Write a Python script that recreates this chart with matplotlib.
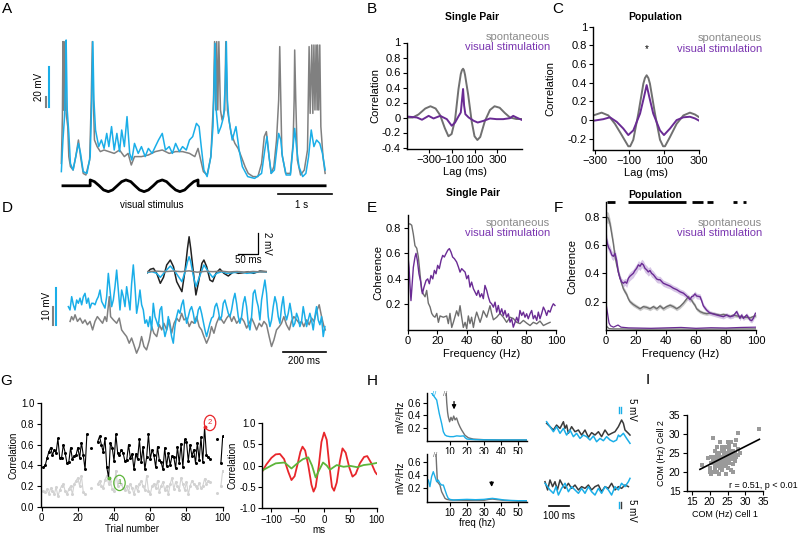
import numpy as np
import matplotlib
matplotlib.use("Agg")
import matplotlib.pyplot as plt

plt.rcParams['font.family'] = ['Liberation Sans', 'DejaVu Sans']

W, H = 800, 536
GRAY = '#808080'
BLUE = '#1aaee8'
PURPLE = '#6a2b94'
LEG_GRAY = '#8a8a8a'
LEG_PURPLE = '#7a35b0'
DARK = '#3a3a3a'
RED = '#e8262b'
GREEN = '#5db53a'

# ---------------- data: A (time s, membrane potential mV) ----------------
A_GRAY_T = [0.01, 0.03, 0.04, 0.05, 0.06, 0.08, 0.09, 0.10, 0.13, 0.15, 0.18, 0.23, 0.28, 0.33, 0.37,
            0.42, 0.47, 0.54, 0.57, 0.59, 0.61, 0.63, 0.68, 0.74, 0.81, 0.90, 1.00, 1.10, 1.19, 1.26,
            1.32, 1.38, 1.51, 1.64, 1.77, 1.90, 2.03, 2.15, 2.28, 2.41, 2.51, 2.57, 2.62, 2.67, 2.74,
            2.81, 2.86, 2.88, 2.90, 2.92, 2.94, 2.96, 2.99, 3.02, 3.07, 3.09, 3.12, 3.15, 3.19, 3.26,
            3.32, 3.38, 3.45, 3.51, 3.60, 3.69, 3.76, 3.81, 3.85, 3.90, 3.94, 3.99, 4.04, 4.08, 4.10,
            4.12, 4.14, 4.21, 4.30, 4.35, 4.37, 4.38, 4.40, 4.43, 4.49, 4.56, 4.62, 4.65, 4.67, 4.70,
            4.72, 4.74, 4.76, 4.78, 4.80, 4.81, 4.83, 4.85, 4.87, 4.91, 4.95]
A_GRAY_V = [8.3, 31.7, 69.2, 35, 69.2, 35, 69.2, 33.3, 26.7, 11.7, 6.7, 5, 11.7, 20, 11.7,
            3.3, 2.5, 10, 40, 69.2, 40, 20, 16.7, 14.2, 15, 14.2, 13.3, 15, 11.7, 13.3,
            7.5, 11.7, 11.7, 12.5, 14.2, 15, 13.3, 14.2, 14.2, 13.3, 11.7, 15.8, 10, 4.2, 2.5,
            11.7, 40, 69.2, 35, 69.2, 35, 69.2, 35, 30, 35, 69.2, 35, 30, 23.3, 18.3,
            15.8, 11.7, 6.7, 3.3, 1.7, 1.7, 8.3, 21.7, 24.2, 11.7, 3.3, 6.7, 20, 40, 66.7,
            40, 13.3, 3.3, 3.3, 18.3, 40, 65, 40, 10, 2.5, 5, 15, 66.7, 33.3, 67.5,
            33.3, 67.5, 35, 67.5, 35, 67.5, 35, 67.5, 26.7, 11.7, 3.3]
A_BLUE_T = [0.01, 0.04, 0.07, 0.09, 0.10, 0.12, 0.15, 0.18, 0.23, 0.28, 0.33, 0.37, 0.42, 0.49, 0.55,
            0.58, 0.60, 0.62, 0.65, 0.71, 0.76, 0.81, 0.86, 0.90, 0.95, 1.00, 1.05, 1.10, 1.14, 1.19,
            1.24, 1.29, 1.33, 1.38, 1.45, 1.51, 1.58, 1.64, 1.71, 1.77, 1.83, 1.90, 1.96, 2.03, 2.09,
            2.15, 2.22, 2.28, 2.35, 2.41, 2.47, 2.54, 2.59, 2.63, 2.68, 2.74, 2.81, 2.85, 2.87, 2.89,
            2.91, 2.95, 3.00, 3.05, 3.08, 3.10, 3.12, 3.15, 3.21, 3.28, 3.34, 3.40, 3.50, 3.63, 3.76,
            3.82, 3.86, 3.90, 3.94, 4.00, 4.05, 4.08, 4.12, 4.15, 4.22, 4.30, 4.35, 4.38, 4.42, 4.46,
            4.53, 4.59, 4.64, 4.69, 4.74, 4.79, 4.85, 4.90, 4.95]
A_BLUE_V = [4.2, 20, 31.7, 48.3, 70, 35, 23.3, 8.3, 5, 11.7, 18.3, 13.3, 4.2, 3.3, 11.7,
            40, 69.2, 40, 25, 16.7, 20, 15.8, 23.3, 16.7, 26.7, 15, 23.3, 14.2, 25, 16.7,
            31.7, 13.3, 10, 18.3, 13.3, 16.7, 11.7, 15.8, 13.3, 16.7, 20, 23.3, 15, 16.7, 13.3,
            18.3, 14.2, 16.7, 15, 20, 21.7, 28.3, 26.7, 16.7, 5, 1.7, 11.7, 26.7, 48.3, 68.3,
            35, 23.3, 26.7, 31.7, 48.3, 69.2, 40, 30, 20, 26.7, 15, 6.7, 1.7, 0.8, 3.3,
            15, 21.7, 11.7, 3.3, 5, 16.7, 23.3, 20, 11.7, 2.5, 2.5, 16.7, 25.8, 15, 6.7,
            1.7, 3.3, 11.7, 25, 16.7, 20, 18.3, 13.3, 5]
# stimulus drawing (normalised grating contrast)
STIM_T = [0.04, 0.55, 0.55, 0.63, 0.72, 0.80, 0.89, 0.97, 1.055, 1.14, 1.22, 1.31, 1.39, 1.475, 1.56,
          1.64, 1.73, 1.81, 1.90, 1.98, 2.06, 2.15, 2.23, 2.32, 2.40, 2.49, 2.57, 2.57, 4.95]
STIM_V = [0, 0, 1, 0.71, 0, -0.71, -1, -0.71, 0, 0.71, 1, 0.71, 0, -0.71, -1,
          -0.71, 0, 0.71, 1, 0.71, 0, -0.71, -1, -0.71, 0, 0.71, 1, 0, 0]

# ---------------- data: D (ms, mV) ----------------
D_GRAY_T = [8, 15, 23, 31, 42, 54, 66, 77, 88, 100, 112, 123, 134, 146, 158, 169, 177, 189, 195, 208,
            223, 235, 246, 257, 269, 281, 292, 303, 315, 328, 338, 349, 361, 374, 385, 395, 408, 420,
            431, 441, 454, 466, 477, 488, 500, 512, 523, 534, 546, 558, 569, 580, 592, 604, 615, 626,
            638, 651, 661, 672, 684, 697, 708, 718, 731, 743, 754, 764, 777, 789, 800, 811, 823, 835,
            846, 857, 869, 881, 892, 903, 915, 927, 938, 949, 961, 974, 984, 995, 1007, 1020, 1030,
            1041, 1054, 1066, 1077, 1087, 1100, 1112, 1123, 1134, 1146, 1158, 1169, 1180, 1186]
D_GRAY_V = [5.0, 6.3, 5.4, 6.8, 5.0, 5.9, 4.5, 5.4, 4.1, 5.0, 2.7, 5.0, 6.3, 5.4, 4.5, 6.3, 5.0, 11.7, 6.3, 5.4,
            4.5, 5.9, 2.7, 1.8, 0.9, -0.9, 0.5, -1.4, -3.6, -1.8, 0.9, -1.8, -2.7, 0, 3.6, 1.8, 0.9, 4.1,
            2.7, 4.5, 2.7, 5.4, 1.8, 4.5, 5.9, 5.0, 7.2, 5.4, 5.9, 3.6, 5.0, 4.5, 6.3, 3.6, 2.7, 0.9,
            -0.9, 0.9, 3.6, 1.8, 4.5, 6.3, 5.4, 4.5, 5.9, 6.8, 5.0, 6.3, 4.5, 5.4, 5.9, 5.0, 3.2, 4.5,
            5.9, 4.5, 2.7, 4.5, 3.6, 5.0, 4.1, 0.9, -1.8, 0, 2.7, 3.6, 4.5, 6.3, 4.1, 2.7, 5.0,
            6.3, 5.4, 4.5, 5.0, 3.6, 5.4, 4.1, 5.9, 5.0, 7.7, 9.5, 6.3, 3.6, 2.7]
D_BLUE_DT = 7.69  # ms between samples of the blue trace
D_BLUE_V = [9.0, 8.1, 11.7, 9.5, 8.1, 10.8, 9.9, 11.3, 9.5, 11.7, 12.6, 9.9, 11.3, 8.6, 9.9, 9.9, 9.5, 10.8,
            11.7, 13.5, 10.4, 9.5, 8.6, 11.7, 18.0, 13.5, 9.0, 10.8, 14.4, 18.9, 13.5, 8.1, 13.5, 11.7, 9.0,
            14.4, 11.3, 8.1, 15.3, 20.3, 14.4, 7.2, 9.9, 13.5, 9.5, 8.1, 4.5, 5.4, 3.6, 6.3, 2.7, 9.9, 6.3,
            5.0, 3.6, 8.1, 9.0, 3.6, 0.9, 2.7, 6.3, 3.6, 0.9, -0.9, 3.6, 6.3, 8.1, 7.2, 9.5, 10.8, 7.2, 4.5,
            6.3, 8.1, 9.0, 7.2, 4.5, 5.4, 8.1, 9.0, 7.2, 5.0, 2.7, 0.9, 2.7, 4.5, 5.9, 6.3, 9.0, 9.9, 8.1,
            5.4, 6.3, 9.9, 10.8, 9.0, 7.2, 6.3, 8.1, 10.8, 12.6, 9.9, 6.3, 4.5, 6.3, 9.9, 11.7, 9.0, 4.5,
            2.7, 6.3, 12.6, 13.5, 10.8, 9.0, 5.4, 10.8, 13.5, 16.2, 12.6, 6.3, 3.6, 5.4, 9.0, 11.7, 9.9,
            6.3, 4.5, 9.0, 11.7, 7.2, 5.4, 7.2, 9.9, 7.2, 3.6, 4.5, 7.2, 5.9, 3.6, 5.0, 9.0, 6.3, 3.6, 5.4,
            7.2, 5.4, 2.7, 6.3, 9.0, 5.4, 4.1, 6.3, 0.9, 3.6]
# inset: average LFP-triggered traces (ms, mV)
IN_BLACK_T = [-106, -97, -89, -81, -72, -64, -56, -47, -39, -31, -18, -10, -4, 0, 4, 11, 17, 23, 32, 37,
              44, 52, 59, 67, 77, 87, 98, 111, 123, 136, 148, 161, 177, 194]
IN_BLACK_V = [-0.16, 0.23, 0.32, -0.16, -1.13, -0.55, 0.65, 1.13, 0.48, -0.97, -1.94, 0.16, 2.26, 3.39,
              2.26, -0.16, -2.26, -1.13, 0.81, 1.13, 0.48, -0.81, -0.97, -0.16, 0.26, -0.16, -0.42, 0,
              -0.16, -0.1, 0, -0.16, 0.06, 0]
IN_BLUE_T = [-106, -93, -81, -72, -60, -47, -35, -18, -10, -4, 0, 4, 11, 17, 26, 37, 48, 59, 69, 82,
             94, 111, 127, 144, 161, 177, 194]
IN_BLUE_V = [-0.1, 0, -0.16, -0.55, 0, 0.55, 0, -0.97, 0, 0.97, 1.45, 0.97, -0.48, -1.45, -0.48, 0.65,
             0, -0.55, -0.16, 0, -0.16, -0.1, 0, -0.16, -0.1, 0, -0.03]
IN_GRAY_T = [-106, -80, -60, -40, -20, 0, 20, 40, 60, 80, 100, 120, 140, 160, 180, 194]
IN_GRAY_V = [0.0, 0.05, 0.0, 0.06, 0.0, 0.08, -0.05, 0.03, 0.0, 0.05, -0.03, 0.02, -0.05, 0.02, -0.03, 0.0]

# ---------------- data: B, C (lag ms, correlation) ----------------
B_LAG_SP = [-490, -440, -390, -330, -285, -240, -200, -160, -128, -100, -70, -40, -20, -10, 0, 8, 17, 45,
            75, 100, 125, 150, 190, 235, 275, 320, 365, 410, 465, 515]
B_SP = [0.0, 0.0, 0.04, 0.12, 0.15, 0.12, 0.03, -0.14, -0.25, -0.22, -0.03, 0.38, 0.58, 0.63, 0.65, 0.63,
        0.57, 0.3, -0.05, -0.25, -0.3, -0.26, -0.05, 0.1, 0.15, 0.13, 0.06, 0.0, -0.02, -0.02]
B_LAG_VS = [-490, -403, -359, -301, -258, -200, -142, -99, -70, -41, -20, -9, 0, 9, 20, 49, 93, 128,
            180, 235, 293, 351, 409, 438, 467, 510]
B_VS = [0.013, 0.0, -0.03, 0.022, -0.013, 0.022, -0.022, -0.11, -0.067, 0.013, 0.067, 0.24, 0.38, 0.16,
        0.044, 0.0, -0.044, -0.067, -0.044, -0.013, -0.022, -0.022, -0.009, 0.022, 0.0, -0.03]
C_LAG_SP = [-308, -260, -221, -183, -144, -106, -95, -77, -48, -19, -10, 0, 10, 19, 48, 77, 95, 106, 135,
            173, 212, 250, 279, 304]
C_SP = [0.05, 0.08, 0.05, -0.04, -0.16, -0.28, -0.28, -0.21, 0.07, 0.39, 0.45, 0.48, 0.45, 0.39, 0.07,
        -0.21, -0.28, -0.28, -0.18, -0.04, 0.05, 0.08, 0.06, 0.03]
C_LAG_VS = [-308, -250, -212, -173, -135, -106, -77, -38, -15, 0, 15, 38, 77, 100, 135, 173, 212, 250,
            279, 304]
C_VS = [-0.007, 0.01, 0.03, -0.018, -0.09, -0.16, -0.11, 0.07, 0.25, 0.375, 0.25, 0.07, -0.11, -0.16,
        -0.09, 0.0, 0.03, 0.036, 0.018, -0.007]

# ---------------- data: E, F (Hz, coherence) ----------------
E_FREQ_SP = [0, 1.6, 2.7, 3.8, 4.9, 6.1, 7.2, 8.3, 9.4, 10.6, 11.7, 12.8, 13.9, 15.1, 16.2, 17.3, 18.4,
             19.6, 20.7, 21.8, 24.0, 26.3, 27.4, 28.5, 29.7, 30.8, 33.0, 34.2, 35.3, 36.4, 37.5, 38.7,
             39.8, 40.9, 42.0, 43.1, 44.3, 45.4, 46.5, 48.8, 49.9, 51.0, 53.3, 55.5, 56.6, 57.8, 60.0,
             62.2, 64.5, 66.7, 69.0, 71.2, 73.5, 75.7, 78.0, 80.2, 82.5, 84.7, 87.0, 89.2, 91.5, 93.7, 96.0]
E_SP = [0.83, 0.83, 0.82, 0.75, 0.66, 0.64, 0.57, 0.44, 0.31, 0.28, 0.26, 0.31, 0.21, 0.18, 0.13, 0.11,
        0.10, 0.13, 0.06, 0.11, 0.10, 0.11, 0.05, 0.13, 0.02, 0.06, 0.15, 0.11, 0.19, 0.10, 0.02, 0.06,
        0.01, 0.11, 0.05, 0.10, 0.02, 0.09, 0.14, 0.06, 0.10, 0.15, 0.10, 0.19, 0.13, 0.08, 0.10, 0.13,
        0.10, 0.06, 0.10, 0.09, 0.06, 0.05, 0.075, 0.054, 0.035, 0.06, 0.048, 0.07, 0.035, 0.048, 0.06]
E_FREQ_VS = [0, 0.9, 1.6, 2.2, 2.7, 3.8, 4.9, 5.6, 6.5, 7.6, 8.8, 9.9, 11.0, 12.4, 13.5, 14.6, 15.7, 16.9,
             18.0, 19.1, 20.2, 21.3, 22.5, 23.6, 24.7, 25.8, 27.0, 28.1, 29.2, 30.3, 31.5, 33.0, 34.2,
             35.3, 36.4, 37.5, 38.7, 39.8, 40.9, 42.0, 43.1, 44.3, 45.4, 46.5, 47.6, 48.8, 49.9, 51.0,
             52.1, 53.3, 54.4, 55.5, 56.6, 57.8, 58.9, 60.0, 61.1, 62.2, 63.4, 64.5, 65.6, 66.7, 67.9,
             69.0, 70.1, 71.2, 72.4, 73.5, 74.6, 75.7, 76.9, 78.0, 79.1, 80.2, 81.3, 82.5, 83.6, 84.7,
             85.8, 87.0, 88.1, 89.2, 90.3, 91.5, 92.6, 93.7, 94.8, 96.0, 97.1, 98.2, 99.3]
E_VS = [0.60, 0.49, 0.34, 0.23, 0.31, 0.49, 0.57, 0.60, 0.545, 0.44, 0.375, 0.284, 0.336, 0.388, 0.40,
        0.362, 0.427, 0.40, 0.467, 0.44, 0.506, 0.48, 0.545, 0.584, 0.571, 0.597, 0.624, 0.637, 0.61,
        0.571, 0.558, 0.532, 0.493, 0.453, 0.48, 0.467, 0.453, 0.401, 0.427, 0.336, 0.375, 0.323, 0.297,
        0.271, 0.31, 0.258, 0.284, 0.245, 0.349, 0.31, 0.258, 0.218, 0.205, 0.179, 0.218, 0.14, 0.192,
        0.127, 0.166, 0.114, 0.153, 0.10, 0.127, 0.061, 0.088, 0.022, 0.061, 0.10, 0.061, 0.153, 0.114,
        0.14, 0.10, 0.127, 0.088, 0.127, 0.153, 0.088, 0.114, 0.075, 0.14, 0.088, 0.127, 0.179, 0.153,
        0.114, 0.153, 0.14, 0.179, 0.205, 0.192]

F_FREQ_SP = [0, 1.6, 2.7, 3.8, 4.9, 6.0, 7.1, 8.2, 9.3, 10.4, 11.6, 12.7, 13.8, 14.9, 16.0, 17.1, 18.2,
             20.4, 22.7, 24.9, 27.1, 29.3, 31.6, 33.8, 36.0, 38.2, 40.4, 42.7, 44.9, 47.1, 49.3, 51.6,
             53.8, 54.9, 56.0, 57.1, 58.2, 59.3, 60.4, 62.7, 64.9, 67.1, 69.3, 71.6, 73.8, 76.0, 78.2,
             80.4, 82.7, 84.9, 87.1, 89.3, 91.6, 93.8, 96.0, 98.2, 100]
F_SP = [0.80, 0.79, 0.75, 0.68, 0.61, 0.52, 0.46, 0.41, 0.37, 0.33, 0.29, 0.27, 0.25, 0.22, 0.20, 0.19,
        0.18, 0.165, 0.15, 0.165, 0.16, 0.15, 0.165, 0.15, 0.17, 0.15, 0.165, 0.175, 0.165, 0.15, 0.165,
        0.19, 0.22, 0.235, 0.22, 0.21, 0.19, 0.175, 0.15, 0.13, 0.12, 0.115, 0.12, 0.115, 0.11, 0.105,
        0.11, 0.105, 0.095, 0.105, 0.10, 0.095, 0.09, 0.09, 0.085, 0.095, 0.10]
F_SP_SEM = [0.04, 0.04, 0.035, 0.035, 0.03, 0.03, 0.025, 0.025, 0.02, 0.02,
            0.018, 0.018, 0.016, 0.016, 0.015, 0.015, 0.015, 0.014, 0.014, 0.014,
            0.014, 0.014, 0.014, 0.014, 0.014, 0.014, 0.014, 0.014, 0.014, 0.014,
            0.014, 0.015, 0.016, 0.016, 0.016, 0.015, 0.015, 0.014, 0.014, 0.013,
            0.012, 0.012, 0.012, 0.012, 0.012, 0.012, 0.012, 0.012, 0.012, 0.012,
            0.012, 0.012, 0.012, 0.012, 0.012, 0.012, 0.012]
F_FREQ_VS = [0, 0.9, 1.8, 2.7, 3.8, 4.9, 6.0, 7.1, 8.2, 9.3, 10.4, 11.6, 12.7, 13.8, 14.9, 16.0, 17.1,
             18.2, 19.3, 20.4, 21.6, 22.7, 23.8, 24.9, 26.0, 27.1, 28.2, 29.3, 30.4, 31.6, 32.7, 33.8,
             34.9, 36.0, 38.2, 40.4, 42.7, 44.9, 47.1, 49.3, 51.6, 53.8, 56.0, 57.1, 58.2, 59.3, 60.4,
             62.7, 63.8, 64.9, 67.1, 69.3, 71.6, 73.8, 76.0, 78.2, 80.4, 82.7, 84.9, 87.1, 88.2, 89.3,
             90.4, 91.6, 92.7, 93.8, 96.0, 97.1, 98.2, 99.6]
F_VS = [0.66, 0.61, 0.58, 0.565, 0.53, 0.52, 0.54, 0.49, 0.41, 0.365, 0.34, 0.33, 0.34, 0.33, 0.365,
        0.38, 0.39, 0.40, 0.42, 0.435, 0.46, 0.45, 0.47, 0.46, 0.435, 0.425, 0.41, 0.42, 0.40, 0.39,
        0.375, 0.36, 0.355, 0.355, 0.33, 0.32, 0.31, 0.295, 0.285, 0.27, 0.26, 0.24, 0.215, 0.235, 0.24,
        0.255, 0.24, 0.235, 0.205, 0.17, 0.14, 0.12, 0.113, 0.106, 0.10, 0.094, 0.106, 0.094, 0.10, 0.13,
        0.106, 0.082, 0.106, 0.082, 0.094, 0.106, 0.071, 0.066, 0.082, 0.118]
F_VS_SEM = [0.04, 0.035, 0.03, 0.03, 0.03, 0.03, 0.03, 0.03, 0.025, 0.025,
            0.025, 0.025, 0.025, 0.03, 0.03, 0.03, 0.03, 0.03, 0.03, 0.03,
            0.03, 0.03, 0.03, 0.03, 0.03, 0.03, 0.03, 0.028, 0.028, 0.026,
            0.025, 0.025, 0.024, 0.024, 0.022, 0.022, 0.02, 0.02, 0.02, 0.02,
            0.02, 0.02, 0.02, 0.02, 0.02, 0.02, 0.02, 0.02, 0.02, 0.018,
            0.016, 0.016, 0.016, 0.016, 0.016, 0.016, 0.016, 0.016, 0.016, 0.016,
            0.016, 0.016, 0.016, 0.016, 0.016, 0.016, 0.016, 0.016, 0.016, 0.016]
F_BASE_FREQ_VS = [0, 1, 2, 3, 5, 6, 8, 10, 15, 20, 30, 40, 50, 60, 70, 80, 90, 100]
F_BASE_VS = [0.19, 0.12, 0.05, 0.03, 0.02, 0.025, 0.035, 0.02, 0.015, 0.014, 0.012, 0.015, 0.018, 0.012,
             0.016, 0.014, 0.018, 0.02]
F_BASE_FREQ_SP = [0, 2, 5, 10, 20, 40, 60, 80, 100]
F_BASE_SP = [0.03, 0.01, 0.008, 0.008, 0.006, 0.007, 0.006, 0.007, 0.008]
F_SIG_START = [0.4, 14.9, 57.1, 67.1, 84.4, 91.3]
F_SIG_END = [6.0, 53.3, 64.9, 71.1, 87.1, 93.6]

# ---------------- data: G ----------------
nan = np.nan
G_BLACK = [0.38, 0.40, 0.47, 0.53, 0.57, 0.50, 0.55, 0.52, 0.66, 0.47, 0.47, 0.60, 0.52, 0.42, 0.43,
           0.57, 0.46, 0.49, 0.50, 0.57, 0.47, 0.62, 0.50, 0.36, 0.70, nan, 0.57, nan, nan, nan,
           0.63, 0.68, 0.60, 0.53, 0.66, 0.38, 0.28, 0.62, 0.57, 0.44, 0.70, 0.52, 0.50, 0.55, 0.52,
           0.44, 0.45, 0.60, 0.47, 0.51, 0.36, 0.51, 0.46, 0.65, 0.43, 0.58, 0.36, 0.48, 0.70, 0.46,
           0.55, 0.50, 0.38, 0.58, 0.45, 0.43, 0.36, 0.57, 0.39, 0.52, 0.40, 0.49, 0.48, 0.37, 0.58,
           0.42, 0.61, 0.38, 0.65, 0.63, 0.44, 0.60, 0.49, 0.55, 0.42, 0.62, 0.45, 0.67, 0.43, 0.77,
           0.50, 0.48, 0.46, nan, nan, nan, 0.65, nan, 0.42, 0.68]
G_GRAY = [0.15, 0.14, 0.17, 0.12, 0.18, 0.15, 0.12, 0.19, 0.10, 0.16, 0.20, 0.22, 0.15, 0.12, 0.17,
          0.20, 0.12, 0.22, 0.25, 0.28, 0.20, 0.30, 0.14, 0.12, nan, nan, 0.18, nan, nan, nan,
          0.22, 0.25, 0.20, 0.18, 0.26, 0.30, 0.22, 0.25, 0.17, 0.15, 0.35, 0.20, 0.25, 0.22, 0.18,
          0.16, 0.20, 0.14, 0.22, 0.18, 0.12, 0.20, 0.15, 0.22, 0.25, 0.20, 0.16, 0.30, 0.15, 0.12,
          0.20, 0.22, 0.18, 0.25, 0.14, 0.20, 0.24, 0.16, 0.20, 0.12, 0.22, 0.28, 0.17, 0.24, 0.20,
          0.16, 0.28, 0.22, 0.16, 0.24, 0.12, 0.20, 0.25, 0.22, 0.20, 0.18, 0.23, 0.18, 0.20, 0.27,
          0.22, 0.25, 0.24, nan, nan, nan, 0.13, nan, 0.20, 0.35]
G_TRIAL_LOW, G_TRIAL_HIGH = 37, 90
G_LAG_RED = [-118, -110, -100, -92, -84, -76, -68, -62, -56, -50, -45, -41, -36, -30, -24, -20, -16, -10,
             -5, 0, 5, 10, 15, 19, 24, 30, 35, 41, 48, 54, 60, 68, 76, 82, 90, 97, 100]
G_RED = [-0.15, 0.02, 0.18, 0.26, 0.27, 0.15, -0.15, -0.34, -0.25, 0.05, 0.32, 0.44, 0.35, 0.0, -0.45,
         -0.61, -0.5, 0.0, 0.55, 0.77, 0.6, 0.0, -0.5, -0.59, -0.4, 0.1, 0.4, 0.3, -0.05, -0.26, -0.2,
         0.05, 0.2, 0.22, 0.05, -0.15, -0.2]
G_LAG_GREEN = [-118, -100, -92, -84, -75, -62, -49, -40, -30, -23, -16, -9, -2, 5, 11, 18, 24, 37, 50,
               63, 75, 88, 100]
G_GREEN = [-0.12, 0.0, 0.05, 0.06, 0.07, -0.07, 0.07, 0.15, 0.19, 0.0, -0.28, -0.1, 0.07, 0.0, -0.1,
           -0.04, 0.01, -0.03, -0.01, -0.04, 0.01, 0.03, 0.06]

# ---------------- data: H ----------------
H1_FREQ_BLUE = [-0.8, 2.2, 3.7, 5.1, 6.1, 7.1, 8.1, 10, 12, 14, 16, 18, 19, 20, 25, 30, 40, 50, 55.3]
H1_BLUE = [0.75, 0.64, 0.43, 0.275, 0.145, 0.094, 0.078, 0.068, 0.068, 0.08, 0.075, 0.08, 0.05, 0.03,
           0.02, 0.018, 0.016, 0.016, 0.016]
H1_FREQ_GRAY = [7.8, 8.1, 8.6, 9.0, 9.8, 10.6, 11.4, 12.2, 13.0, 13.9, 14.9, 15.9, 16.9, 18.8, 20.8,
                23.7, 30, 40, 55.3]
H1_GRAY = [0.75, 0.6, 0.45, 0.38, 0.30, 0.37, 0.32, 0.39, 0.33, 0.36, 0.28, 0.22, 0.17, 0.09, 0.05,
           0.03, 0.02, 0.016, 0.016]
H2_FREQ_BLUE = [-2.7, -1.8, -0.8, 0.2, 1.2, 2.2, 3.1, 4.1, 5.1, 6.1, 7.1, 8.1, 9.0, 10, 12, 15, 20, 25,
                30, 33, 35, 38, 42, 45, 50, 55.3]
H2_BLUE = [0.325, 0.225, 0.375, 0.45, 0.375, 0.30, 0.325, 0.275, 0.25, 0.25, 0.175, 0.10, 0.05, 0.035,
           0.025, 0.03, 0.035, 0.03, 0.035, 0.045, 0.05, 0.04, 0.025, 0.02, 0.015, 0.015]
H2_FREQ_GRAY = [1.8, 2.2, 2.6, 4.1, 5.1, 6.1, 7.1, 8.1, 10, 20, 30, 33, 35, 38, 42, 50, 55.3]
H2_GRAY = [0.72, 0.5, 0.3, 0.25, 0.15, 0.1, 0.05, 0.035, 0.025, 0.02, 0.02, 0.035, 0.04, 0.03, 0.02,
           0.01, 0.01]
HT_DARK_T = [8, 25, 42, 58, 75, 92, 100, 108, 117, 133, 150, 167, 183, 200, 217, 233, 250, 267, 283, 300,
             317, 333, 350, 367, 383, 392, 400, 417, 425]
HT_DARK_V = [20.3, 17.4, 14.5, 18.8, 15.9, 21.7, 15.9, 18.8, 11.6, 17.4, 13.0, 14.5, 10.1, 14.5, 8.1,
             12.2, 10.1, 13.0, 8.7, 14.5, 10.1, 11.6, 13.0, 17.4, 23.2, 20.3, 14.5, 11.6, 10.1]
HT_BLUE_T = [8, 25, 42, 58, 75, 92, 108, 125, 142, 158, 175, 192, 208, 225, 242, 258, 275, 292, 308, 325,
             342, 358, 367, 375, 392, 408, 425]
HT_BLUE_V = [21.7, 17.4, 13.0, 17.4, 11.6, 15.9, 10.1, 14.5, 8.7, 11.6, 7.2, 10.1, 8.7, 5.8, 9.3, 4.3,
             7.2, 5.2, 8.7, 5.8, 4.3, 5.8, 10.1, 8.7, 11.6, 7.2, 2.9]
HB_DARK_T = [0, 13, 25, 38, 50, 62, 75, 88, 100, 117, 133, 150, 167, 183, 200, 217, 233, 250, 267, 283,
             300, 317, 333, 350, 367, 383, 400, 417]
HB_DARK_V = [13.0, 5.8, 14.5, 8.7, 13.0, 5.8, 14.5, 10.1, 7.2, 11.6, 7.2, 10.1, 5.8, 8.7, 7.2, 10.1, 5.8,
             8.7, 10.1, 4.3, 8.7, 7.2, 11.6, 5.8, 8.7, 7.2, 10.1, 8.7]
HB_BLUE_T = [0, 13, 25, 42, 55, 67, 83, 100, 117, 133, 150, 167, 183, 200, 217, 233, 250, 267, 283, 300,
             317, 333, 350, 367, 383, 400, 417, 425]
HB_BLUE_V = [11.6, 8.7, 5.8, 2.9, 8.7, 1.4, 7.2, 11.6, 4.3, 8.7, 5.8, 2.9, 7.2, 2.9, 8.7, 4.3, 1.4, 7.2,
             2.9, 8.7, 5.8, 1.4, 8.7, 5.8, 11.6, 8.7, 13.0, 15.9]

# ---------------- data: I (COM, Hz) ----------------
I_COM1 = [18.0, 19.5, 20.0, 20.0, 20.5, 20.5, 21.0, 21.0, 21.0, 21.5, 21.5, 21.5, 22.0, 22.0, 22.0, 22.0,
          22.5, 22.5, 22.5, 22.5, 23.0, 23.0, 23.0, 23.0, 23.0, 23.5, 23.5, 23.5, 23.5, 24.0, 24.0, 24.0,
          24.0, 24.0, 24.5, 24.5, 24.5, 24.5, 25.0, 25.0, 25.0, 25.0, 25.0, 25.5, 25.5, 25.5, 26.0, 26.0,
          26.0, 26.0, 26.5, 26.5, 26.5, 27.0, 27.0, 27.0, 27.5, 27.5, 28.0, 28.0, 27.8, 33.8, 22.0, 20.5,
          23.5, 26.5, 24.5, 28.5, 21.5, 25.5]
I_COM2 = [21.9, 23.8, 20.0, 21.0, 19.6, 22.5, 20.0, 23.0, 28.9, 21.0, 22.0, 24.0, 20.0, 21.5, 23.0, 24.5,
          19.6, 22.0, 23.5, 25.0, 21.0, 22.0, 23.0, 24.0, 27.8, 20.5, 22.5, 24.0, 25.5, 21.5, 22.5, 23.5,
          24.5, 25.5, 22.0, 23.0, 24.0, 26.5, 21.0, 23.0, 24.0, 25.0, 28.0, 22.5, 24.5, 26.0, 20.5, 23.5,
          25.0, 28.0, 22.0, 24.0, 25.5, 23.0, 25.0, 27.0, 24.0, 28.5, 24.5, 26.0, 30.2, 31.4, 26.5, 24.0,
          26.5, 20.0, 19.5, 25.0, 25.5, 27.0]
I_FIT_X = [17.3, 33.9]
I_FIT_Y = [20.7, 28.6]

fig = plt.figure(figsize=(8, 5.36), dpi=100)


def px_axes(x0, y0, x1, y1):
    return fig.add_axes([x0 / W, 1 - y1 / H, (x1 - x0) / W, (y1 - y0) / H])


def ftext(x, y, s, **kw):
    kw.setdefault('ha', 'center')
    kw.setdefault('va', 'center')
    fig.text(x / W, 1 - y / H, s, **kw)


def style(ax, size=8):
    for side in ('top', 'right'):
        ax.spines[side].set_visible(False)
    for side in ('left', 'bottom'):
        ax.spines[side].set_linewidth(1.0)
    ax.tick_params(direction='out', length=3, width=0.8, labelsize=size, pad=1.5)


fmt_g = matplotlib.ticker.FuncFormatter(lambda v, p: '%g' % v)
fmt_1 = matplotlib.ticker.FormatStrFormatter('%.1f')

# panel letters
for letter, x, y in [('A', 7, 9), ('B', 372, 9), ('C', 558, 9), ('D', 7, 208), ('E', 372, 208),
                     ('F', 558, 208), ('G', 6, 381), ('H', 372, 381), ('I', 648, 380)]:
    ftext(x, y, letter, fontsize=11)

# ---------------- A ----------------
axA = px_axes(30, 30, 335, 212)
axA.plot(A_GRAY_T, A_GRAY_V, color=GRAY, lw=1.1)
axA.plot(A_BLUE_T, A_BLUE_V, color=BLUE, lw=1.1)
axA.plot([-0.27, -0.27], [36.3, 41.5], color=GRAY, lw=1.5)
axA.plot([-0.23, -0.23], [36.3, 56.6], color=BLUE, lw=1.5)
axA.text(-0.41, 46.5, '20 mV', rotation=90, ha='center', va='center', fontsize=7)
axA.plot([4.06, 5.08], [-7, -7], color='black', lw=1.2)
axA.set_xlim(-0.577, 5.135)
axA.set_ylim(-16, 75)
axA.axis('off')
ftext(301.7, 205, '1 s', fontsize=7)
ftext(151.7, 205, 'visual stimulus', fontsize=7)

axS = px_axes(30, 170, 335, 200)
axS.plot(STIM_T, STIM_V, color='black', lw=2.0, solid_joinstyle='round')
axS.set_xlim(-0.577, 5.135)
axS.set_ylim(-2.43, 2.7)
axS.axis('off')

# ---------------- D ----------------
axD = px_axes(30, 225, 335, 365)
d_blue_t = np.arange(len(D_BLUE_V)) * D_BLUE_DT
axD.plot(D_GRAY_T, D_GRAY_V, color=GRAY, lw=1.1)
axD.plot(d_blue_t, D_BLUE_V, color=BLUE, lw=1.1)
axD.plot([-69, -69], [4.05, 9.0], color=GRAY, lw=1.5)
axD.plot([-57, -57], [4.05, 14.1], color=BLUE, lw=1.5)
axD.text(-100, 9.2, '10 mV', rotation=90, ha='center', va='center', fontsize=7)
axD.plot([989, 1189], [-3.2, -3.2], color='black', lw=1.2)
axD.text(1089, -5.6, '200 ms', ha='center', va='center', fontsize=7)
axD.set_xlim(-177, 1231)
axD.set_ylim(-6.8, 31.1)
axD.axis('off')

axIn = px_axes(146.7, 225, 266.7, 300)
axIn.plot(IN_BLACK_T, IN_BLACK_V, color='#222222', lw=1.1)
axIn.plot(IN_BLUE_T, IN_BLUE_V, color=BLUE, lw=1.1)
axIn.plot(IN_GRAY_T, IN_GRAY_V, color=GRAY, lw=1.1)
axIn.plot([123, 173, 173], [1.72, 1.72, 3.73], color='black', lw=0.9)
axIn.text(148, 1.1, '50 ms', ha='center', va='center', fontsize=7)
axIn.text(194, 2.7, '2 mV', rotation=270, ha='center', va='center', fontsize=7, clip_on=False)
axIn.set_xlim(-106, 194)
axIn.set_ylim(-2.75, 4.53)
axIn.axis('off')

# ---------------- B ----------------
axB = px_axes(407, 42.5, 522, 149)
axB.plot(B_LAG_SP, B_SP, color='#707070', lw=1.4)
axB.plot(B_LAG_VS, B_VS, color=PURPLE, lw=1.4)
axB.set_xlim(-490, 515)
axB.set_ylim(-0.42, 1.0)
axB.set_yticks([-0.4, -0.2, 0, 0.2, 0.4, 0.6, 0.8, 1])
axB.set_xticks([-300, -100, 100, 300])
axB.yaxis.set_major_formatter(fmt_g)
style(axB, 8)
axB.set_ylabel('Correlation', fontsize=8, labelpad=1)
axB.set_xlabel('Lag (ms)', fontsize=8, labelpad=1)
ftext(472, 17.5, 'Single Pair', fontsize=7.5, fontweight='bold')
ftext(550, 37.5, 'spontaneous', fontsize=8, ha='right', color=LEG_GRAY)
ftext(550, 47.5, 'visual stimulation', fontsize=8, ha='right', color=LEG_PURPLE)

# ---------------- C ----------------
axC = px_axes(593.3, 26.7, 699.3, 150)
axC.plot(C_LAG_SP, C_SP, color='#707070', lw=1.4)
axC.plot(C_LAG_VS, C_VS, color=PURPLE, lw=1.4)
axC.text(0, 0.76, '*', ha='center', va='center', fontsize=7)
axC.set_xlim(-308, 304)
axC.set_ylim(-0.32, 1.0)
axC.set_yticks([-0.2, 0, 0.2, 0.4, 0.6, 0.8, 1])
axC.set_xticks([-300, -100, 100, 300])
axC.yaxis.set_major_formatter(fmt_g)
style(axC, 8)
axC.set_ylabel('Correlation', fontsize=8, labelpad=9)
axC.set_xlabel('Lag (ms)', fontsize=8, labelpad=1)
ftext(655, 17, 'Population', fontsize=7.5, fontweight='bold')
ftext(762, 38, 'spontaneous', fontsize=8, ha='right', color=LEG_GRAY)
ftext(762, 49, 'visual stimulation', fontsize=8, ha='right', color=LEG_PURPLE)

# ---------------- E ----------------
axE = px_axes(407.7, 215, 556, 330)
axE.plot(E_FREQ_SP, E_SP, color='#6e6e6e', lw=1.0)
axE.plot(E_FREQ_VS, E_VS, color=PURPLE, lw=1.0)
axE.set_xlim(0, 100)
axE.set_ylim(0, 0.9)
axE.set_yticks([0.2, 0.4, 0.6, 0.8])
axE.set_xticks([0, 20, 40, 60, 80, 100])
style(axE, 8)
axE.set_ylabel('Coherence', fontsize=8, labelpad=2)
axE.set_xlabel('Frequency (Hz)', fontsize=8, labelpad=2)
ftext(473, 193.5, 'Single Pair', fontsize=7.5, fontweight='bold')
ftext(550, 223, 'spontaneous', fontsize=8, ha='right', color=LEG_GRAY)
ftext(550, 233, 'visual stimulation', fontsize=8, ha='right', color=LEG_PURPLE)

# ---------------- F ----------------
axF = px_axes(606, 202.5, 756, 330)
f_sp = np.array(F_SP)
f_vs = np.array(F_VS)
axF.fill_between(F_FREQ_SP, f_sp - np.array(F_SP_SEM), f_sp + np.array(F_SP_SEM),
                 color='#bdbdbd', lw=0, alpha=0.8)
axF.fill_between(F_FREQ_VS, f_vs - np.array(F_VS_SEM), f_vs + np.array(F_VS_SEM),
                 color='#cdb8e0', lw=0, alpha=0.8)
axF.plot(F_FREQ_SP, F_SP, color='#6e6e6e', lw=1.0)
axF.plot(F_FREQ_VS, F_VS, color=PURPLE, lw=1.0)
axF.plot(F_BASE_FREQ_SP, F_BASE_SP, color='#6e6e6e', lw=0.9)
axF.plot(F_BASE_FREQ_VS, F_BASE_VS, color=PURPLE, lw=0.9)
for s0, s1 in zip(F_SIG_START, F_SIG_END):
    axF.plot([s0, s1], [0.9, 0.9], color='black', lw=2, clip_on=False, solid_capstyle='butt')
axF.set_xlim(0, 100)
axF.set_ylim(0, 0.9)
axF.set_yticks([0.2, 0.4, 0.6, 0.8])
axF.set_xticks([0, 20, 40, 60, 80, 100])
style(axF, 8)
axF.set_ylabel('Coherence', fontsize=8, labelpad=5)
axF.set_xlabel('Frequency (Hz)', fontsize=8, labelpad=2)
ftext(655, 194.5, 'Population', fontsize=7.5, fontweight='bold')
ftext(762, 223, 'spontaneous', fontsize=8, ha='right', color=LEG_GRAY)
ftext(762, 233, 'visual stimulation', fontsize=8, ha='right', color=LEG_PURPLE)

# ---------------- G (left) ----------------
axG = px_axes(40.7, 403.3, 222.7, 506.7)
trials = np.arange(1, len(G_BLACK) + 1)
axG.plot(trials, G_GRAY, color='#d2d2d2', lw=0.8, marker='o', ms=2.2, mec='none')
axG.plot(trials, G_BLACK, color='black', lw=0.8, marker='o', ms=2.2, mec='none')
axG.plot([G_TRIAL_LOW], [G_BLACK[G_TRIAL_LOW - 1]], 'o', color=GREEN, ms=2.8, mec='none')
axG.plot([G_TRIAL_HIGH], [G_BLACK[G_TRIAL_HIGH - 1]], 'o', color=RED, ms=2.8, mec='none')
axG.text(43, 0.23, '1', fontsize=5.5, color=GREEN, ha='center', va='center',
         bbox=dict(boxstyle='ellipse,pad=0.25', fc='none', ec=GREEN, lw=0.9))
axG.text(93, 0.81, '2', fontsize=5.5, color=RED, ha='center', va='center',
         bbox=dict(boxstyle='ellipse,pad=0.25', fc='none', ec=RED, lw=0.9))
axG.set_xlim(-0.5, 100)
axG.set_ylim(0, 1)
axG.set_xticks([0, 20, 40, 60, 80, 100])
axG.set_yticks([0, 0.2, 0.4, 0.6, 0.8, 1.0])
axG.yaxis.set_major_formatter(fmt_1)
style(axG, 7)
axG.set_ylabel('Correlation', fontsize=7, labelpad=2)
axG.set_xlabel('Trial number', fontsize=7, labelpad=1)

# ---------------- G (right) ----------------
axG2 = px_axes(262, 422.7, 376.7, 508.3)
axG2.plot(G_LAG_RED, G_RED, color=RED, lw=1.3)
axG2.plot(G_LAG_GREEN, G_GREEN, color=GREEN, lw=1.3)
axG2.set_xlim(-118, 100)
axG2.set_ylim(-1, 1)
axG2.set_xticks([-100, -50, 0, 50, 100])
axG2.set_yticks([-1, -0.5, 0, 0.5, 1])
axG2.yaxis.set_major_formatter(fmt_1)
style(axG2, 7)
axG2.set_ylabel('Correlation', fontsize=7, labelpad=1)
axG2.set_xlabel('ms', fontsize=7, labelpad=0)

# ---------------- H (spectra) ----------------
axH1 = px_axes(427, 393, 527, 441)
axH1.plot(H1_FREQ_GRAY, H1_GRAY, color='#707070', lw=1.0)
axH1.plot(H1_FREQ_BLUE, H1_BLUE, color=BLUE, lw=1.0)
axH1.text(0.8, 0.73, '//', color=BLUE, fontsize=5.5, ha='center', va='center', clip_on=False)
axH1.text(7.2, 0.72, '//', color='#707070', fontsize=5.5, ha='center', va='center', clip_on=False)
axH1.annotate('', xy=(12.4, 0.45), xytext=(12.4, 0.66),
              arrowprops=dict(arrowstyle='-|>', color='black', lw=0.9, mutation_scale=6))
axH2 = px_axes(427, 453.7, 527, 501.7)
axH2.plot(H2_FREQ_GRAY, H2_GRAY, color='#707070', lw=1.0)
axH2.plot(H2_FREQ_BLUE, H2_BLUE, color=BLUE, lw=1.0)
axH2.text(1.5, 0.69, '//', color='#707070', fontsize=5.5, ha='center', va='center', clip_on=False)
axH2.annotate('', xy=(34.5, 0.18), xytext=(34.5, 0.34),
              arrowprops=dict(arrowstyle='-|>', color='black', lw=0.9, mutation_scale=6))
for ax, top in ((axH1, 0.75), (axH2, 0.72)):
    ax.set_xlim(-3.5, 55.3)
    ax.set_ylim(0, top)
    ax.set_xticks([10, 20, 30, 40, 50])
    ax.set_yticks([0.2, 0.4, 0.6])
    style(ax, 7)
    ax.set_ylabel('mV²/Hz', fontsize=7, labelpad=1)
    ax.set_xlabel('freq (hz)', fontsize=7, labelpad=0)

# ---------------- H (traces) ----------------
axH3 = px_axes(543, 400, 633, 450)
axH3.plot(HT_DARK_T, HT_DARK_V, color=DARK, lw=1.1)
axH3.plot(HT_BLUE_T, HT_BLUE_V, color=BLUE, lw=1.1)
axH3.plot([372, 372], [29.3, 34.5], color=BLUE, lw=1.0)
axH3.plot([380, 380], [29.3, 34.5], color=BLUE, lw=1.0)
axH3.text(437, 32.5, '5 mV', rotation=270, fontsize=7, ha='center', va='center', clip_on=False)
axH3.set_xlim(-10, 440)
axH3.set_ylim(-2.9, 40.6)
axH3.axis('off')

axH4 = px_axes(543, 465, 633, 520)
axH4.plot(HB_DARK_T, HB_DARK_V, color=DARK, lw=1.1)
axH4.plot(HB_BLUE_T, HB_BLUE_V, color=BLUE, lw=1.1)
axH4.plot([372, 372], [-9.9, -4.6], color=BLUE, lw=1.0)
axH4.plot([380, 380], [-9.9, -4.6], color=DARK, lw=1.0)
axH4.text(437, -12, '5 mV', rotation=270, fontsize=7, ha='center', va='center', clip_on=False)
axH4.plot([21.7, 121.7], [-8.1, -8.1], color='black', lw=1.2)
axH4.text(71.7, -16.5, '100 ms', fontsize=7, ha='center', va='center')
axH4.set_xlim(-10, 440)
axH4.set_ylim(-20.3, 27.5)
axH4.axis('off')

# ---------------- I ----------------
axI = px_axes(686.7, 415, 763.3, 491)
axI.scatter(I_COM1, I_COM2, s=5, marker='s', color='#9a9a9a', lw=0)
axI.plot(I_FIT_X, I_FIT_Y, color='black', lw=1.2)
axI.set_xlim(13.6, 35)
axI.set_ylim(15, 35)
axI.set_xticks([15, 20, 25, 30, 35])
axI.set_yticks([15, 20, 25, 30, 35])
style(axI, 7.5)
axI.set_ylabel('COM (Hz) Cell 2', fontsize=6.5, labelpad=2)
axI.set_xlabel('COM (Hz) Cell 1', fontsize=6.5, labelpad=2)
ftext(798, 486, 'r = 0.51, p < 0.01', fontsize=6.5, ha='right')

fig.savefig('out.png', dpi=100)
